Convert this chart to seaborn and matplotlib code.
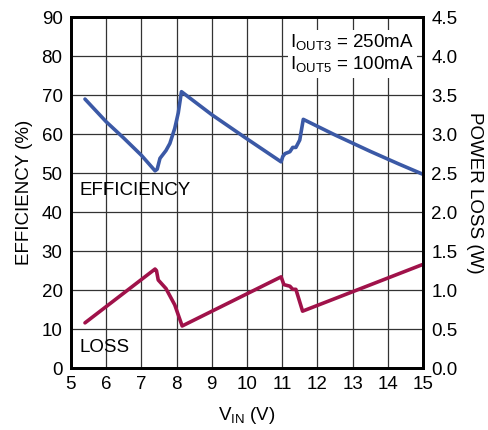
import numpy as np
import matplotlib
matplotlib.use("Agg")
import matplotlib.pyplot as plt
import seaborn as sns

# Efficiency (%) vs input voltage
EFF_VIN = [5.40, 6.0, 6.5, 7.0, 7.39, 7.45, 7.53, 7.70, 7.81, 7.95, 8.05, 8.14,
           9.0, 10.0, 10.97, 11.02, 11.08, 11.22, 11.30, 11.39, 11.50, 11.60,
           12.5, 13.5, 14.3, 15.0]
EFF_PCT = [69.0, 63.2, 59.0, 54.6, 50.6, 51.0, 53.8, 55.8, 57.6, 61.5, 65.5, 70.9,
           65.0, 58.8, 52.9, 54.3, 55.0, 55.5, 56.6, 56.6, 58.5, 63.8,
           59.8, 55.6, 52.4, 49.7]

# Power loss (W) vs input voltage
LOSS_VIN = [5.40, 7.39, 7.43, 7.48, 7.70, 7.95, 8.16, 10.97, 11.05, 11.22,
            11.30, 11.39, 11.58, 15.0]
LOSS_W = [0.58, 1.27, 1.25, 1.13, 1.02, 0.81, 0.54, 1.17, 1.07, 1.05,
          1.01, 1.01, 0.73, 1.33]

BLUE = "#3b59a6"
RED = "#a0124a"

sns.set_style("white")
plt.rcParams["font.family"] = ["Liberation Sans", "DejaVu Sans"]
plt.rcParams["mathtext.fontset"] = "custom"
plt.rcParams["mathtext.rm"] = "Liberation Sans"
plt.rcParams["text.color"] = "black"
plt.rcParams["axes.labelcolor"] = "black"
plt.rcParams["xtick.color"] = "black"
plt.rcParams["ytick.color"] = "black"

fig = plt.figure(figsize=(4.89, 4.30), dpi=100)
ax = fig.add_axes([0.145, 0.144, 0.720, 0.816])
ax2 = ax.twinx()

sns.lineplot(x=EFF_VIN, y=EFF_PCT, ax=ax, color=BLUE, linewidth=2.6, sort=False)
sns.lineplot(x=LOSS_VIN, y=LOSS_W, ax=ax2, color=RED, linewidth=2.6, sort=False)

ax.set_xlim(5, 15)
ax.set_ylim(0, 90)
ax2.set_ylim(0, 4.5)
ax.set_xticks(range(5, 16))
ax.set_yticks(range(0, 91, 10))
ax2.set_yticks(np.arange(0, 4.51, 0.5))
ax2.set_yticklabels([f"{v:.1f}" for v in np.arange(0, 4.51, 0.5)])

ax.grid(True, color="#333333", linewidth=0.9)
ax.set_axisbelow(True)
for a in (ax, ax2):
    a.tick_params(length=0, labelsize=13.5, pad=6)
    for s in a.spines.values():
        s.set_linewidth(2)
        s.set_color("black")

ax.set_xlabel(r"V$_{\mathregular{IN}}$ (V)", fontsize=13.5, labelpad=8)
ax.set_ylabel("EFFICIENCY (%)", fontsize=13.5, labelpad=6)
ax2.set_ylabel("POWER LOSS (W)", fontsize=13.5, rotation=270, labelpad=18)

ax.text(5.25, 45.5, "EFFICIENCY", fontsize=13.5, va="center", ha="left")
ax.text(5.25, 5.2, "LOSS", fontsize=13.5, va="center", ha="left")

ax.text(14.75, 80.5,
        "I$_{\\mathregular{OUT3}}$ = 250mA\nI$_{\\mathregular{OUT5}}$ = 100mA",
        fontsize=13.5, ha="right", va="center", linespacing=1.1,
        bbox=dict(facecolor="white", edgecolor="none", pad=2))

fig.savefig("out.png", dpi=100)
